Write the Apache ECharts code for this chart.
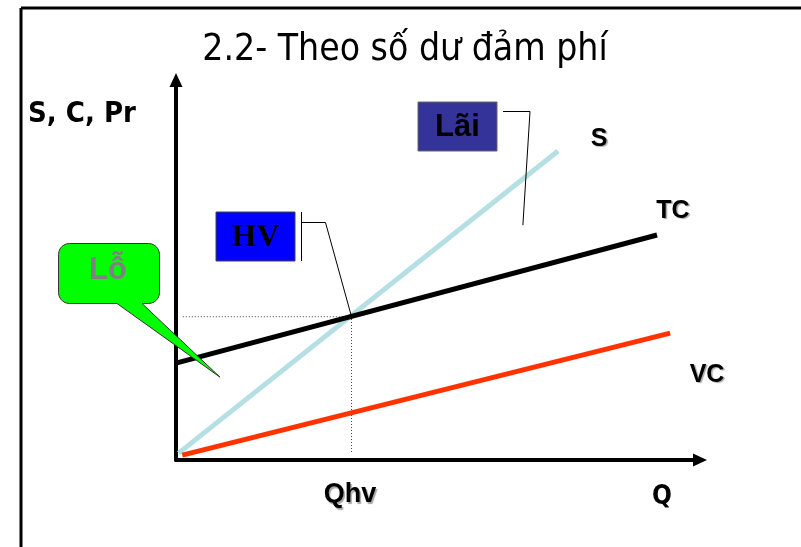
<!DOCTYPE html>
<html>
<head>
<meta charset="utf-8">
<script src="https://cdn.jsdelivr.net/npm/echarts@6/dist/echarts.min.js"></script>
<style>
  html, body { margin: 0; padding: 0; background: #fff; }
  #chart { width: 801px; height: 547px; }
</style>
</head>
<body>
<div id="chart"></div>
<script>
// Break-even diagram: sales (S), total cost (TC) and variable cost (VC) against output (Q)
const salesLine = [[0.5, 1.8], [72.9, 81.3]];
const totalCostLine = [[0, 25.5], [91.8, 59.2]];
const variableCostLine = [[1.2, 1.3], [94.3, 33.4]];
const breakEvenPoint = [33.5, 37.7];
const guideStartX = 1.3;
const guideEndY = 1.8;
const profitPointer = [66.2, 61.8];
const lossPointer = [8.4, 21.8];

const titleText = '2.2- Theo số dư đảm phí';
const curveLabels = ['S', 'TC', 'VC'];
const yAxisLabel = 'S, C, Pr';
const xAxisLabel = 'Q';
const breakEvenLabel = 'Qhv';
const calloutLabels = ['Lãi', 'HV', 'Lỗ'];

const SANS = "'Liberation Sans', Arial, sans-serif";
const NARROW = "'Liberation Sans Narrow', 'DejaVu Sans Condensed', 'DejaVu Sans', sans-serif";
const SERIF = "'Liberation Serif', 'Times New Roman', serif";

const chart = echarts.init(document.getElementById('chart'), null, { renderer: 'canvas' });

const guidePath = [[guideStartX, breakEvenPoint[1]], breakEvenPoint, [breakEvenPoint[0], guideEndY]];

const axisCommon = {
  type: 'value',
  min: 0,
  max: 100,
  splitLine: { show: false },
  axisTick: { show: false },
  axisLabel: { show: false },
  axisLine: {
    show: true,
    symbol: ['none', 'triangle'],
    symbolSize: [13, 14],
    lineStyle: { color: '#000', width: 4 }
  }
};

chart.setOption({
  animation: false,
  backgroundColor: '#fff',
  grid: { left: 176, right: 101, top: 80, bottom: 87 },
  xAxis: Object.assign({}, axisCommon),
  yAxis: Object.assign({}, axisCommon),
  series: [
    {
      name: 'guide', type: 'line', data: guidePath, symbol: 'none', z: 1,
      lineStyle: { color: '#444', width: 1, type: [1, 2] }
    },
    {
      name: curveLabels[0], type: 'line', data: salesLine, symbol: 'none', z: 2,
      lineStyle: { color: '#b4dfe3', width: 5, cap: 'butt' }
    },
    {
      name: curveLabels[2], type: 'line', data: variableCostLine, symbol: 'none', z: 3,
      lineStyle: { color: '#ff3300', width: 5, cap: 'butt' }
    },
    {
      name: curveLabels[1], type: 'line', data: totalCostLine, symbol: 'none', z: 4,
      lineStyle: { color: '#000', width: 5, cap: 'butt' }
    }
  ]
});

const px = p => chart.convertToPixel({ gridIndex: 0 }, p);
const be = px(breakEvenPoint);
const profit = px(profitPointer);
const loss = px(lossPointer);

const shadowText = (text, x, y, size, family) => ({
  type: 'text', x: x, y: y, z: 50,
  style: {
    text: text, fill: '#000', font: 'bold ' + size + 'px ' + family,
    align: 'center', verticalAlign: 'middle', textAlign: 'center', textVerticalAlign: 'middle',
    textShadowColor: 'rgba(0,0,0,0.35)', textShadowOffsetX: 1.5, textShadowOffsetY: 1.5, textShadowBlur: 1
  }
});

const plainText = (text, x, y, font, fill) => ({
  type: 'text', x: x, y: y, z: 60,
  style: {
    text: text, fill: fill, font: font,
    align: 'center', verticalAlign: 'middle', textAlign: 'center', textVerticalAlign: 'middle'
  }
});

// rounded speech bubble outline whose tail ends at the loss pointer
function bubbleOutline(x0, y0, x1, y1, r, tailL, tailR, tip) {
  const pts = [];
  const corner = (cx, cy, a0) => {
    for (let i = 0; i <= 6; i++) {
      const a = a0 + (Math.PI / 2) * (i / 6);
      pts.push([cx + r * Math.cos(a), cy + r * Math.sin(a)]);
    }
  };
  corner(x0 + r, y0 + r, Math.PI);          // top-left
  corner(x1 - r, y0 + r, -Math.PI / 2);     // top-right
  corner(x1 - r, y1 - r, 0);                // bottom-right
  pts.push([tailR, y1], tip, [tailL, y1]);
  corner(x0 + r, y1 - r, Math.PI / 2);      // bottom-left
  return pts;
}

chart.setOption({
  graphic: [
    // slide frame
    { type: 'line', z: 5, shape: { x1: 21, y1: 8, x2: 801, y2: 8 }, style: { stroke: '#000', lineWidth: 3 } },
    { type: 'line', z: 5, shape: { x1: 21, y1: 8, x2: 21, y2: 547 }, style: { stroke: '#000', lineWidth: 3 } },

    // heading and axis names
    plainText(titleText, 405, 50, 'normal 37px ' + NARROW, '#000'),
    plainText(yAxisLabel, 82, 114, 'bold 29px ' + NARROW, '#000'),
    plainText(xAxisLabel, 662, 497, 'bold 26px ' + NARROW, '#000'),

    // curve names
    shadowText(curveLabels[0], 599, 139, 25, SANS),
    shadowText(curveLabels[1], 673, 211, 25, SANS),
    shadowText(curveLabels[2], 707, 375, 25, SANS),
    shadowText(breakEvenLabel, 350, 495, 27, SANS),

    // profit callout
    { type: 'rect', z: 40, shape: { x: 418, y: 102, width: 79, height: 49 },
      style: { fill: '#333399', stroke: '#666', lineWidth: 1 } },
    plainText(calloutLabels[0], 457.5, 127, 'bold 31px ' + SANS, '#000'),
    { type: 'polyline', z: 40, shape: { points: [[503, 111.5], [530, 111.5], profit] },
      style: { stroke: '#000', lineWidth: 1, fill: null } },

    // break-even callout
    { type: 'rect', z: 40, shape: { x: 216, y: 212, width: 79, height: 49 },
      style: { fill: '#0000ff', stroke: '#444', lineWidth: 1 } },
    plainText(calloutLabels[1], 255.5, 238, 'bold 32px ' + SERIF, '#000'),
    { type: 'line', z: 40, shape: { x1: 301.5, y1: 212, x2: 301.5, y2: 261 },
      style: { stroke: '#000', lineWidth: 1 } },
    { type: 'polyline', z: 40, shape: { points: [[301.5, 222.5], [325.5, 222.5], be] },
      style: { stroke: '#000', lineWidth: 1, fill: null } },

    // loss callout
    { type: 'polygon', z: 40, shape: { points: bubbleOutline(58.5, 243.5, 159.5, 303.5, 11, 117, 142, loss) },
      style: { fill: '#00ff00', stroke: '#333', lineWidth: 1 } },
    plainText(calloutLabels[2], 108, 270, 'bold 31px ' + SANS, '#808080')
  ]
});
</script>
</body>
</html>
